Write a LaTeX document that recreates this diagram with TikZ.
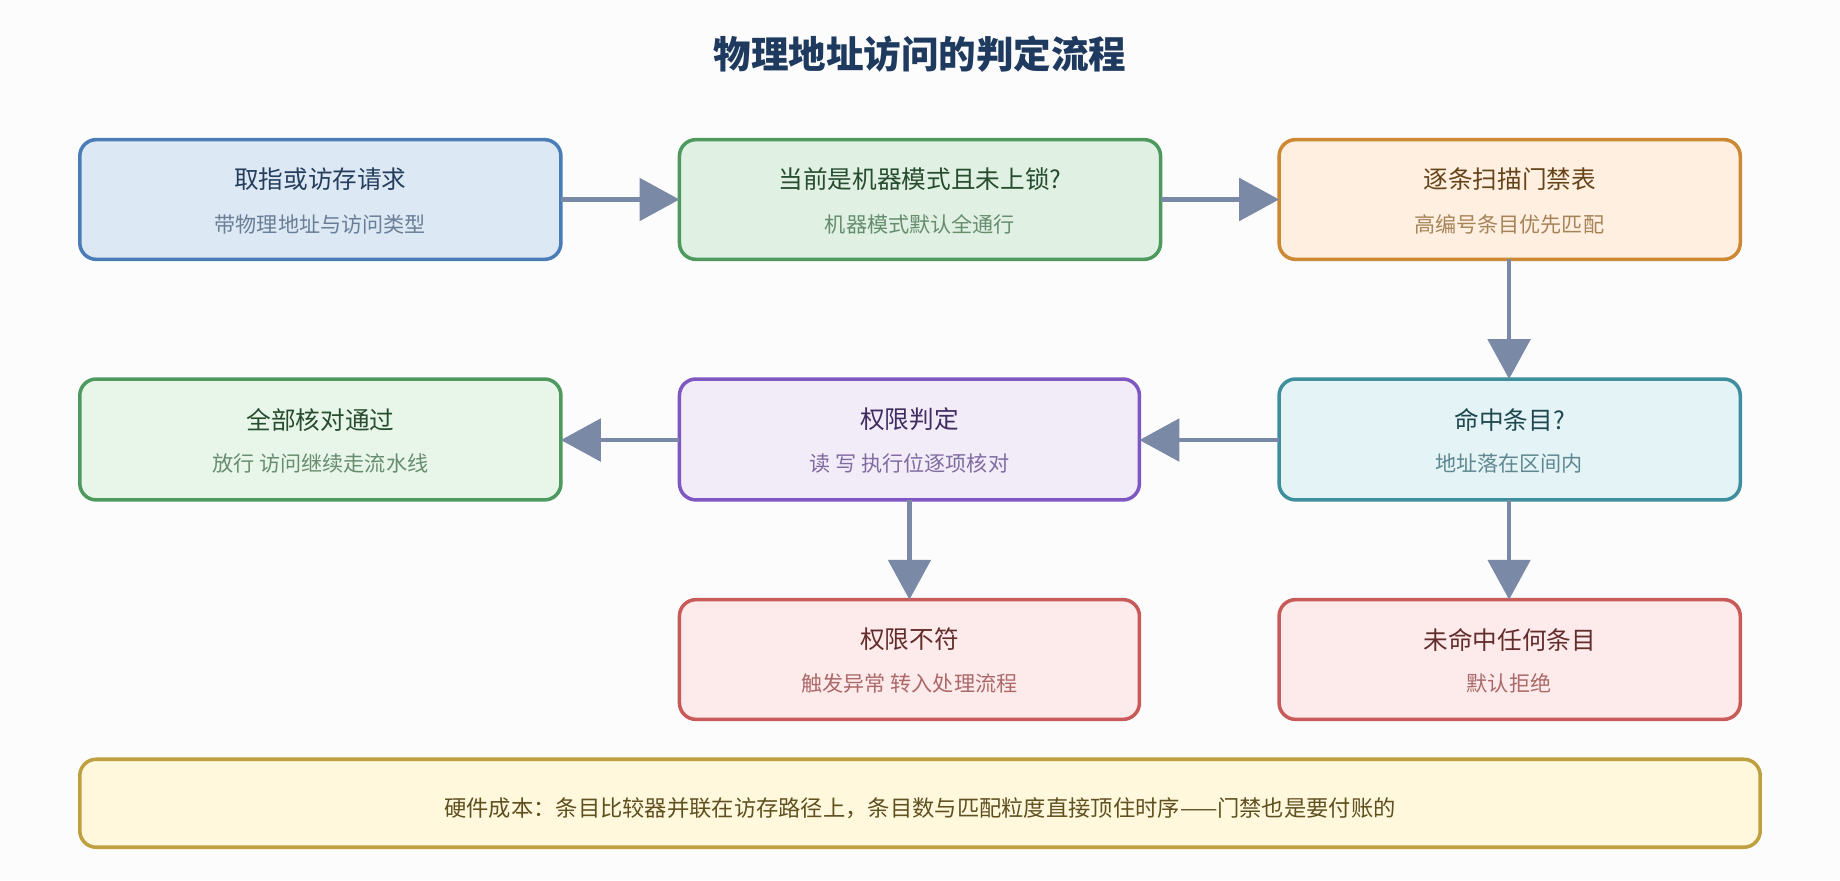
\documentclass[tikz,border=0pt]{standalone}
\usepackage{fontspec}
\setmainfont{Noto Sans CJK SC}
\usetikzlibrary{arrows.meta}
\definecolor{arr}{HTML}{7A8AA6}
\begin{document}
\begin{tikzpicture}[x=0.5pt,y=-0.5pt,
box/.style={draw=#1!70!black!80, fill=#1!12, line width=1.5pt, rounded corners=7pt, anchor=north west},
ar/.style={draw=arr, line width=2pt, -{Triangle[length=17pt,width=18pt]}},
t1/.style={font=\fontsize{10.5}{12}\selectfont},
t2/.style={font=\fontsize{9}{11}\selectfont}]
\useasboundingbox (0,0) rectangle (1568,750);
\fill[white!99!black] (0,0) rectangle (1568,750);
\node[font=\bfseries\fontsize{16}{18}\selectfont, text=black!40!blue!60!black] (title) at (784,46) {\textcolor[HTML]{1F3A5F}{物理地址访问的判定流程}};
\newcommand\bx[8]{%
 \path[draw=#6, fill=#7, line width=1.5pt, rounded corners=7pt] (#2,#3) rectangle (#4,#5);
 \node[t1, text=#6!50!black] (#1) at ({(#2+#4)/2},{(#3+#5)/2-17}) {#8};}
\definecolor{bA}{HTML}{4A7DB8}\definecolor{fA}{HTML}{DDE8F5}
\definecolor{bB}{HTML}{4E9A5E}\definecolor{fB}{HTML}{E0F0E3}
\definecolor{bC}{HTML}{CC8833}\definecolor{fC}{HTML}{FFEFE0}
\definecolor{bD}{HTML}{3E8E9E}\definecolor{fD}{HTML}{E3F3F6}
\definecolor{bE}{HTML}{7E57C2}\definecolor{fE}{HTML}{F2ECF8}
\definecolor{fF}{HTML}{E8F5E9}
\definecolor{bG}{HTML}{C85A5A}\definecolor{fG}{HTML}{FDEAEA}
\definecolor{bN}{HTML}{BFA040}\definecolor{fN}{HTML}{FFF8DC}
\bx{A}{68}{119}{478}{221}{bA}{fA}{取指或访存请求}
\bx{B}{579}{119}{989}{221}{bB}{fB}{当前是机器模式且未上锁?}
\bx{C}{1090}{119}{1483}{221}{bC}{fC}{逐条扫描门禁表}
\bx{D}{1090}{323}{1483}{426}{bD}{fD}{命中条目?}
\bx{E}{579}{323}{971}{426}{bE}{fE}{权限判定}
\bx{F}{68}{323}{478}{426}{bB}{fF}{全部核对通过}
\bx{G}{579}{511}{971}{613}{bG}{fG}{权限不符}
\bx{H}{1090}{511}{1483}{613}{bG}{fG}{未命中任何条目}
\node[t2,text=bA!40!gray] (a2) at (273,191) {带物理地址与访问类型};
\node[t2,text=bB!50!gray] (b2) at (784,191) {机器模式默认全通行};
\node[t2,text=bC!50!gray] (c2) at (1286,191) {高编号条目优先匹配};
\node[t2,text=bD!50!gray] (d2) at (1286,395) {地址落在区间内};
\node[t2,text=bE!50!gray] (e2) at (775,395) {读 写 执行位逐项核对};
\node[t2,text=bB!50!gray] (f2) at (273,395) {放行 访问继续走流水线};
\node[t2,text=bG!60!gray] (g2) at (775,582) {触发异常 转入处理流程};
\node[t2,text=bG!60!gray] (h2) at (1286,582) {默认拒绝};
\path[draw=bN, fill=fN, line width=1.5pt, rounded corners=7pt] (68,647) rectangle (1500,722);
\node[t2,font=\fontsize{9.5}{11}\selectfont,text=bN!50!black] (note) at (784,689) {硬件成本：条目比较器并联在访存路径上，条目数与匹配粒度直接顶住时序——门禁也是要付账的};
\coordinate (a1) at (478,170); \coordinate (b1) at (579,170);
\coordinate (b3) at (989,170); \coordinate (c1) at (1090,170);
\coordinate (c3) at (1286,221); \coordinate (d1) at (1286,323);
\coordinate (d3) at (1090,375); \coordinate (e1) at (971,375);
\coordinate (e3) at (579,375); \coordinate (f1) at (478,375);
\coordinate (e4) at (775,426); \coordinate (g1) at (775,511);
\coordinate (d4) at (1286,426); \coordinate (h1) at (1286,511);
\draw[ar] (a1) -- (b1); \draw[ar] (b3) -- (c1); \draw[ar] (c3) -- (d1);
\draw[ar] (d3) -- (e1); \draw[ar] (e3) -- (f1); \draw[ar] (e4) -- (g1);
\draw[ar] (d4) -- (h1);
\end{tikzpicture}
\end{document}
